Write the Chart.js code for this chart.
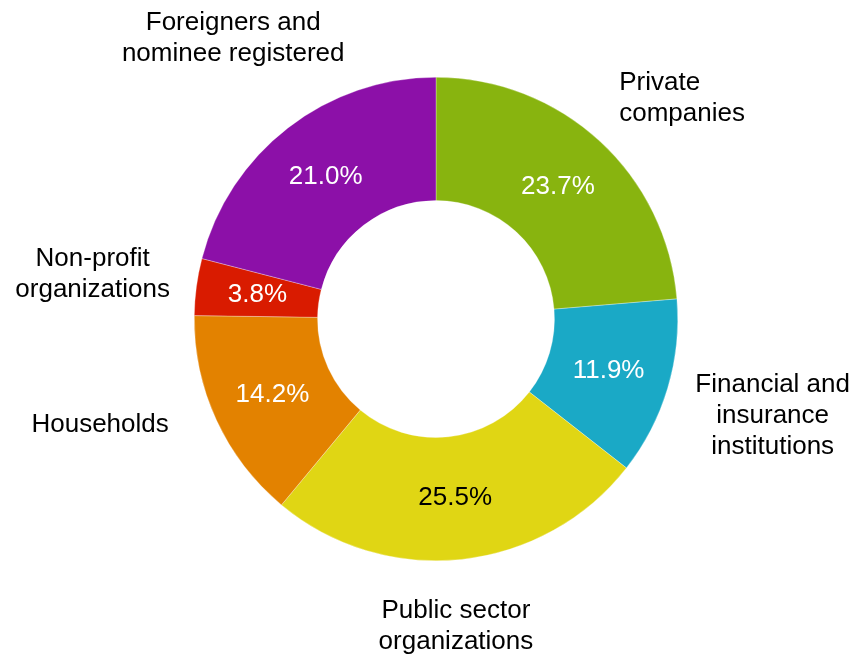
<!DOCTYPE html>
<html>
<head>
<meta charset="utf-8">
<script src="https://cdn.jsdelivr.net/npm/chart.js@4/dist/chart.umd.min.js"></script>
<style>
  html, body { margin: 0; padding: 0; background: #ffffff; }
  #wrap { width: 854px; height: 657px; position: relative; }
</style>
</head>
<body>
<div id="wrap"><canvas id="c" width="854" height="657"></canvas></div>
<script>
// Ownership shares, clockwise from the top
const categories = [
  ["Private", "companies"],
  ["Financial and", "insurance", "institutions"],
  ["Public sector", "organizations"],
  ["Households"],
  ["Non-profit", "organizations"],
  ["Foreigners and", "nominee registered"]
];
const shares = [23.7, 11.9, 25.5, 14.2, 3.8, 21.0];
const sliceColors = ["#88b40f", "#1aa9c6", "#e0d614", "#e38200", "#d91b00", "#8c10a8"];
const valueTextColors = ["#ffffff", "#ffffff", "#000000", "#ffffff", "#ffffff", "#ffffff"];

// Where each category name sits: radius as a multiple of the outer radius,
// angular nudge (degrees) from the slice middle, and line alignment
const nameLayout = [
  { r: 1.367, nudge: 5.5,  align: "left" },
  { r: 1.449, nudge: -0.6, align: "center" },
  { r: 1.273, nudge: 2.4,  align: "center" },
  { r: 1.457, nudge: 7.2,  align: "center" },
  { r: 1.432, nudge: -0.3, align: "center" },
  { r: 1.432, nudge: 1.9,  align: "center" }
];

const FONT = '26px "Liberation Sans", Arial, sans-serif';
const LINE_H = 31;

const sliceLabels = {
  id: "sliceLabels",
  afterDatasetsDraw(chart) {
    const ctx = chart.ctx;
    const meta = chart.getDatasetMeta(0);
    ctx.save();
    ctx.font = FONT;
    ctx.textBaseline = "middle";
    meta.data.forEach((arc, i) => {
      const p = arc.getProps(["x", "y", "startAngle", "endAngle", "innerRadius", "outerRadius"], true);
      const mid = (p.startAngle + p.endAngle) / 2;

      // value inside the ring
      const rv = (p.innerRadius + p.outerRadius) / 2;
      ctx.fillStyle = valueTextColors[i];
      ctx.textAlign = "center";
      ctx.fillText(shares[i].toFixed(1) + "%", p.x + Math.cos(mid) * rv, p.y + Math.sin(mid) * rv);

      // category name outside the ring
      const lay = nameLayout[i];
      const a = mid + lay.nudge * Math.PI / 180;
      const rn = p.outerRadius * lay.r;
      const cx = p.x + Math.cos(a) * rn;
      const cy = p.y + Math.sin(a) * rn;
      const lines = categories[i];
      const widest = Math.max(...lines.map(l => ctx.measureText(l).width));
      const top = cy - (lines.length - 1) * LINE_H / 2;
      ctx.fillStyle = "#000000";
      lines.forEach((line, k) => {
        const y = top + k * LINE_H;
        if (lay.align === "left") {
          ctx.textAlign = "left";
          ctx.fillText(line, cx - widest / 2, y);
        } else {
          ctx.textAlign = "center";
          ctx.fillText(line, cx, y);
        }
      });
    });
    ctx.restore();
  }
};

new Chart(document.getElementById("c"), {
  type: "doughnut",
  data: {
    labels: categories.map(c => c.join(" ")),
    datasets: [{
      data: shares,
      backgroundColor: sliceColors,
      borderColor: "rgba(255,255,255,0.6)",
      borderWidth: 0.5
    }]
  },
  options: {
    responsive: false,
    animation: false,
    cutout: "49%",
    rotation: 0,
    layout: { padding: { left: 194, right: 176, top: 77, bottom: 96 } },
    plugins: {
      legend: { display: false },
      tooltip: { enabled: false }
    }
  },
  plugins: [sliceLabels]
});
</script>
</body>
</html>
